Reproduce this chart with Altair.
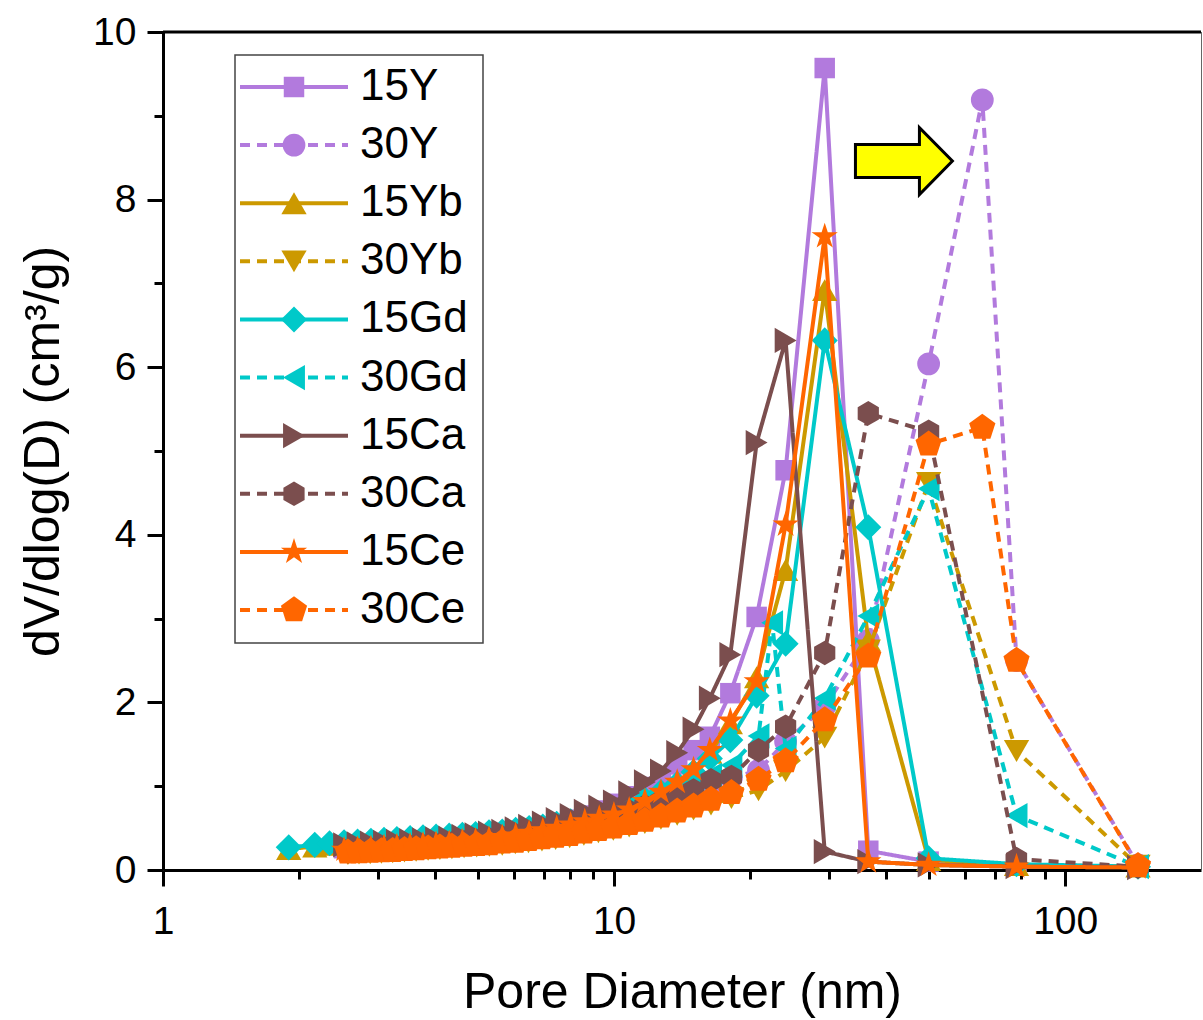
import altair as alt
import pandas as pd

# ---------------- data ----------------
SERIES = ["15Y", "30Y", "15Yb", "30Yb", "15Gd", "30Gd", "15Ca", "30Ca", "15Ce", "30Ce"]

# pore-diameter grid (nm) of the "15" samples
D15 = [1.90, 2.17, 2.34, 2.52, 2.70, 2.89, 3.09, 3.30, 3.53, 3.77, 4.03, 4.31, 4.61, 4.93,
       5.28, 5.65, 6.05, 6.48, 6.95, 7.46, 8.01, 8.61, 9.27, 9.99, 10.8, 11.7, 12.7, 13.8,
       15.0, 16.3, 18.1, 20.7, 24.0, 29.3, 36.6, 49.8, 78.0, 145.0]
# pore-diameter grid (nm) of the "30" samples
D30 = [2.57, 2.72, 2.88, 3.05, 3.23, 3.43, 3.64, 3.87, 4.11, 4.37, 4.65, 4.96, 5.29, 5.65,
       6.04, 6.46, 6.92, 7.42, 7.97, 8.57, 9.23, 9.96, 10.8, 11.7, 12.7, 13.8, 15.0, 16.4,
       18.2, 20.9, 22.4, 24.0, 29.3, 36.6, 49.8, 65.5, 78.0, 145.0]

v15Y = [None, None, None, 0.26, 0.27, 0.28, 0.29, 0.30, 0.31, 0.32, 0.33, 0.35, 0.36, 0.38,
        0.40, 0.42, 0.45, 0.48, 0.51, 0.55, 0.60, 0.65, 0.71, 0.79, 0.88, 0.99, 1.11, 1.26,
        1.43, 1.59, 2.11, 3.02, 4.77, 9.57, 0.23, 0.10, 0.06, 0.04]
v15Yb = [0.25, 0.28, 0.30, 0.31, 0.32, 0.33, 0.34, 0.35, 0.36, 0.37, 0.38, 0.39, 0.40, 0.41,
         0.42, 0.44, 0.46, 0.48, 0.50, 0.53, 0.56, 0.60, 0.64, 0.69, 0.75, 0.83, 0.92, 1.03,
         1.17, 1.40, 1.75, 2.30, 3.58, 6.92, 2.74, 0.12, 0.06, 0.04]
v15Gd = [0.27, 0.30, 0.32, 0.33, 0.34, 0.35, 0.36, 0.37, 0.38, 0.39, 0.40, 0.41, 0.42, 0.43,
         0.45, 0.46, 0.48, 0.50, 0.52, 0.55, 0.58, 0.62, 0.66, 0.70, 0.76, 0.84, 0.93, 1.03,
         1.17, 1.33, 1.55, 2.08, 2.70, 6.32, 4.09, 0.14, 0.07, 0.04]
v15Ca = [None, None, None, 0.30, 0.31, 0.32, 0.33, 0.34, 0.35, 0.36, 0.37, 0.38, 0.40, 0.42,
         0.44, 0.46, 0.49, 0.52, 0.56, 0.60, 0.65, 0.70, 0.75, 0.81, 0.92, 1.05, 1.18, 1.40,
         1.68, 2.05, 2.57, 5.10, 6.32, 0.22, 0.10, 0.06, 0.04, 0.03]
v15Ce = [None, None, None, 0.24, 0.25, 0.26, 0.27, 0.28, 0.29, 0.30, 0.31, 0.32, 0.34, 0.35,
         0.37, 0.39, 0.41, 0.44, 0.47, 0.50, 0.54, 0.58, 0.62, 0.66, 0.72, 0.82, 0.93, 1.05,
         1.20, 1.43, 1.78, 2.25, 4.12, 7.56, 0.10, 0.06, 0.04, 0.03]

v30Y = [0.22, 0.23, 0.24, 0.25, 0.26, 0.27, 0.28, 0.29, 0.30, 0.31, 0.32, 0.34, 0.35, 0.37,
        0.39, 0.41, 0.43, 0.46, 0.49, 0.52, 0.56, 0.60, 0.65, 0.71, 0.78, 0.86, 0.95, 1.02,
        1.10, 1.19, None, 1.53, 1.95, 2.74, 6.04, 9.19, 2.50, 0.06]
v30Yb = [0.19, 0.195, 0.20, 0.205, 0.21, 0.22, 0.23, 0.24, 0.25, 0.26, 0.27, 0.28, 0.29, 0.30,
         0.32, 0.33, 0.35, 0.37, 0.39, 0.42, 0.45, 0.48, 0.52, 0.56, 0.61, 0.66, 0.72, 0.78,
         0.86, 0.95, None, 1.18, 1.58, 2.62, 4.62, None, 1.42, 0.05]
v30Gd = [0.24, 0.25, 0.26, 0.27, 0.28, 0.29, 0.30, 0.31, 0.32, 0.34, 0.35, 0.37, 0.38, 0.40,
         0.42, 0.44, 0.47, 0.50, 0.53, 0.57, 0.61, 0.66, 0.71, 0.77, 0.84, 0.92, 1.02, 1.13,
         1.25, 1.60, 2.95, 1.45, 2.05, 3.03, 4.55, None, 0.65, 0.04]
v30Ca = [0.22, 0.23, 0.24, 0.25, 0.26, 0.27, 0.28, 0.29, 0.30, 0.32, 0.33, 0.35, 0.36, 0.38,
         0.40, 0.42, 0.45, 0.48, 0.51, 0.55, 0.60, 0.65, 0.70, 0.76, 0.82, 0.88, 0.95, 1.07,
         1.11, 1.43, None, 1.71, 2.59, 5.45, 5.23, None, 0.13, 0.04]
v30Ce = [0.21, 0.215, 0.22, 0.225, 0.23, 0.24, 0.25, 0.26, 0.27, 0.28, 0.29, 0.30, 0.31, 0.33,
         0.34, 0.36, 0.38, 0.40, 0.42, 0.45, 0.48, 0.51, 0.55, 0.59, 0.64, 0.70, 0.76, 0.84,
         0.92, 1.08, None, 1.30, 1.79, 2.55, 5.08, 5.28, 2.50, 0.05]

XTICKS = [1, 2, 3, 4, 5, 6, 7, 8, 9, 10, 20, 30, 40, 50, 60, 70, 80, 90, 100]
YTICKS = [0, 1, 2, 3, 4, 5, 6, 7, 8, 9, 10]

# arrow annotation position (data coordinates)
ARROW_D = [43.9]
ARROW_V = [8.46]

# ---------------- build table ----------------
SOURCES = [("15Y", D15, v15Y), ("30Y", D30, v30Y), ("15Yb", D15, v15Yb), ("30Yb", D30, v30Yb),
           ("15Gd", D15, v15Gd), ("30Gd", D30, v30Gd), ("15Ca", D15, v15Ca), ("30Ca", D30, v30Ca),
           ("15Ce", D15, v15Ce), ("30Ce", D30, v30Ce)]
rows = []
for name, grid, vals in SOURCES:
    for d, v in zip(grid, vals):
        if v is not None:
            rows.append({"series": name, "D": d, "v": v})
df = pd.DataFrame(rows)

# ---------------- styles ----------------
FONT = "Liberation Sans"
W, H = 1038, 838
PURPLE, GOLD, CYAN, BROWN, ORANGE = "#B27ADD", "#CC9900", "#00C9C9", "#7B4E4E", "#FF6600"
COLORS = [PURPLE, PURPLE, GOLD, GOLD, CYAN, CYAN, BROWN, BROWN, ORANGE, ORANGE]
SOLID, DASH = [1, 0], [10, 7]
DASHES = [SOLID, DASH] * 5
HEX = "M0,-1 L0.866,-0.5 L0.866,0.5 L0,1 L-0.866,0.5 L-0.866,-0.5 Z"
STAR = ("M0,-1 L0.225,-0.309 L0.951,-0.309 L0.363,0.118 L0.588,0.809 L0,0.382 "
        "L-0.588,0.809 L-0.363,0.118 L-0.951,-0.309 L-0.225,-0.309 Z")
PENT = "M0,-1 L0.951,-0.309 L0.588,0.809 L-0.588,0.809 L-0.951,-0.309 Z"
SHAPES = ["square", "circle", "triangle-up", "triangle-down", "diamond", "triangle-left",
          "triangle-right", HEX, STAR, PENT]
SIZES = [420, 520, 640, 640, 680, 640, 640, 600, 760, 760]
ARROW = "M-1,-0.34 L0.32,-0.34 L0.32,-0.69 L1,0 L0.32,0.69 L0.32,0.34 L-1,0.34 Z"

color_scale = alt.Scale(domain=SERIES, range=COLORS)
shape_scale = alt.Scale(domain=SERIES, range=SHAPES)
dash_scale = alt.Scale(domain=SERIES, range=DASHES)
size_scale = alt.Scale(type="ordinal", domain=SERIES, range=SIZES)

major_x = "datum.value == 1 || datum.value == 10 || datum.value == 100"
major_y = "datum.value % 2 == 0"
common_axis = dict(domainColor="black", domainWidth=3, tickColor="black", tickWidth=3,
                   labelFont=FONT, labelFontSize=39, labelColor="black",
                   titleFont=FONT, titleFontSize=50, titleFontWeight="normal",
                   titleColor="black", grid=False, labelOverlap=False)
x_axis = alt.Axis(values=XTICKS, labelExpr=f"({major_x}) ? toString(datum.value) : ''",
                  tickSize={"condition": {"test": major_x, "value": 16}, "value": 9},
                  labelPadding=16, titlePadding=26, labelFlush=False, **common_axis)
y_axis = alt.Axis(values=YTICKS, labelExpr=f"({major_y}) ? toString(datum.value) : ''",
                  tickSize={"condition": {"test": major_y, "value": 16}, "value": 9},
                  labelPadding=11, titlePadding=24, **common_axis)

X = alt.X("D:Q", scale=alt.Scale(type="log", domain=[1, 200], nice=False), axis=x_axis,
          title="Pore Diameter (nm)")
Y = alt.Y("v:Q", scale=alt.Scale(domain=[0, 10], nice=False, zero=False), axis=y_axis,
          title="dV/dlog(D) (cm³/g)")
C = alt.Color("series:N", scale=color_scale, legend=None)
S = alt.Shape("series:N", scale=shape_scale, legend=None)
SD = alt.StrokeDash("series:N", scale=dash_scale, legend=None)
SZ = alt.Size("series:N", scale=size_scale, legend=None)

layers = []
for s in SERIES:
    b = alt.Chart(df).transform_filter(alt.datum.series == s)
    layers.append(b.mark_line(strokeWidth=4).encode(x=X, y=Y, color=C, strokeDash=SD))
    layers.append(b.mark_point(filled=True, opacity=1, strokeWidth=0).encode(
        x=X, y=Y, color=C, shape=S, size=SZ))

arrow_df = pd.DataFrame({"D": ARROW_D, "v": ARROW_V})
layers.append(alt.Chart(arrow_df).mark_point(shape=ARROW, size=9400, filled=True, fill="#FFFF00",
                                             stroke="black", strokeWidth=3, opacity=1)
              .encode(x=alt.X("D:Q"), y=alt.Y("v:Q")))

one = pd.DataFrame({"k": [0]})
layers.append(alt.Chart(one).mark_rule(color="black", strokeWidth=3).encode(
    x=alt.value(0), x2=alt.value(W), y=alt.value(0)))
layers.append(alt.Chart(one).mark_rule(color="#666666", strokeWidth=1).encode(
    x=alt.value(W + 0.5), y=alt.value(0), y2=alt.value(H)))

data_group = alt.layer(*layers)

# ---------------- in-plot legend ----------------
leg_df = pd.DataFrame({"series": SERIES})
LY = alt.Y("series:N", scale=alt.Scale(type="point", domain=SERIES, range=[55, 578], padding=0),
           axis=None, sort=SERIES)
leg_box = alt.Chart(one).mark_rect(fill="white", stroke="#444444", strokeWidth=1.5).encode(
    x=alt.value(72), x2=alt.value(320), y=alt.value(23), y2=alt.value(611))
leg_line = alt.Chart(leg_df).mark_rule(strokeWidth=4).encode(
    x=alt.value(77), x2=alt.value(185), y=LY, color=C, strokeDash=SD)
leg_pt = alt.Chart(leg_df).mark_point(filled=True, opacity=1, strokeWidth=0).encode(
    x=alt.value(131), y=LY, color=C, shape=S, size=SZ)
leg_txt = alt.Chart(leg_df).mark_text(align="left", baseline="middle", font=FONT, fontSize=44,
                                      color="black").encode(
    x=alt.value(197), y=LY, text="series:N")
legend_group = alt.layer(leg_box, leg_line, leg_pt, leg_txt)

chart = (alt.layer(data_group, legend_group)
         .resolve_scale(y="independent")
         .properties(width=W, height=H, background="white",
                     autosize=alt.AutoSizeParams(type="none"),
                     padding={"left": 163, "top": 32, "right": 2, "bottom": 150})
         .configure_view(stroke=None))

chart.save("out.html", embed_options={"renderer": "svg", "actions": False})
